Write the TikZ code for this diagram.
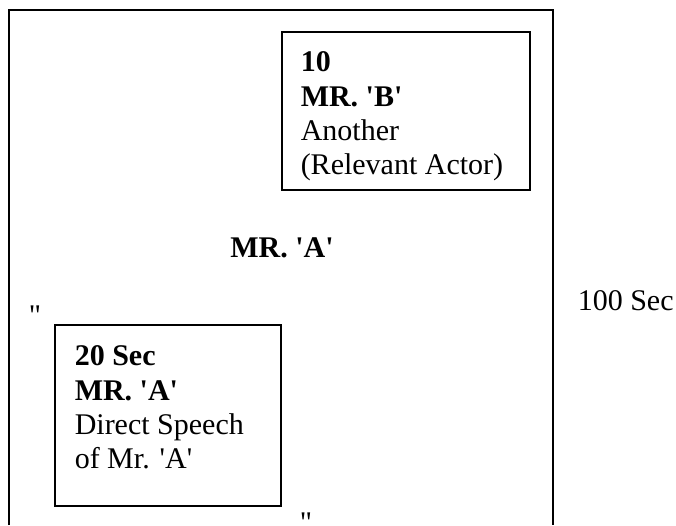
\documentclass[tikz,border=0pt]{standalone}
\usepackage{fontspec}
\setmainfont{Liberation Serif}[Ligatures=TeXOff]
\usepackage{tikz}

\begin{document}
\begin{tikzpicture}[x=1pt,y=-1pt,line width=1.5pt,
  every node/.style={font=\fontsize{30}{34.4}\selectfont,inner sep=0pt},
  cue/.style={align=left,anchor=north west}]
  \useasboundingbox (0,0) rectangle (676,525);
  \draw (9,525) -- (9,10) -- (553,10) -- (553,525);
  \draw (282,32) rectangle (530,190);
  \node[cue] (actorb) at (300,51)
    {\textbf{10}\\\textbf{MR. 'B'}\\Another\\(Relevant Actor)};
  \node[anchor=base] (actora) at (282,257) {\textbf{MR. 'A'}};
  \node[anchor=base west] (quoteleft) at (28,325) {"};
  \node[anchor=base west] (total) at (577,310) {100 Sec};
  \draw (55,325) rectangle (281,506);
  \node[cue] (speech) at (74,345)
    {\textbf{20 Sec}\\\textbf{MR. 'A'}\\Direct Speech\\of Mr. 'A'};
  \node[anchor=base west] (quotelow) at (299,532) {"};
\end{tikzpicture}
\end{document}
